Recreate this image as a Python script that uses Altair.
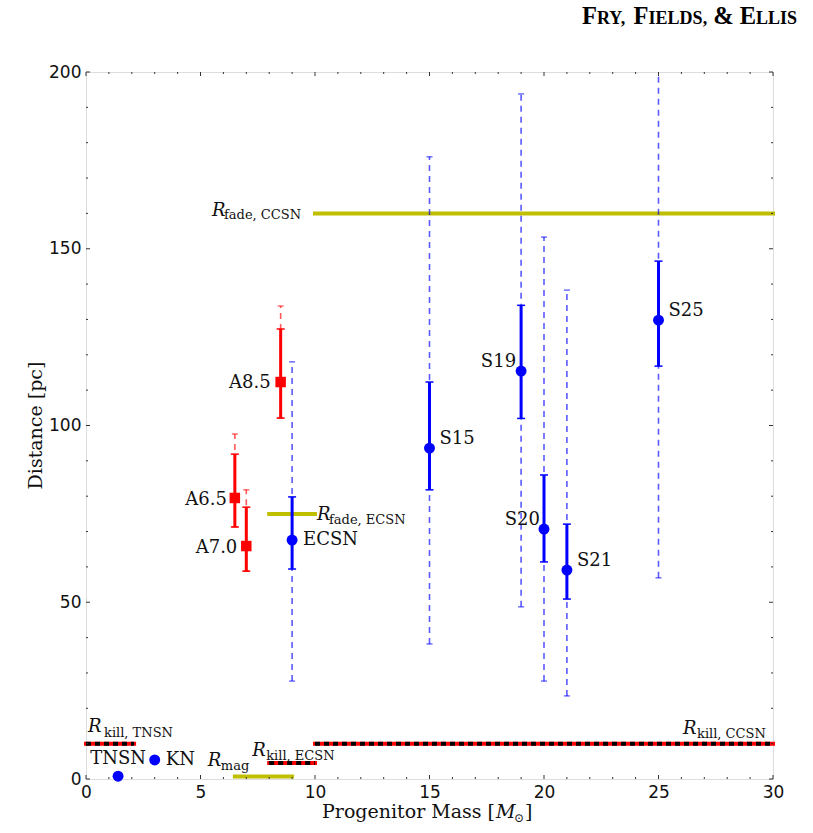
import altair as alt
import pandas as pd

# Supernova models (blue): best estimate, central band and full range of distance
sn_names = ["ECSN", "S15", "S19", "S20", "S21", "S25"]
sn_mass = [9, 15, 19, 20, 21, 25]
sn_dist = [67.6, 93.6, 115.4, 70.7, 59.1, 129.8]
sn_lo = [59.4, 81.8, 102.0, 61.4, 50.9, 116.8]
sn_hi = [79.8, 112.3, 134.0, 86.0, 72.1, 146.5]
sn_range_lo = [27.7, 38.2, 48.7, 27.7, 23.5, 56.9]
sn_range_hi = [118.0, 176.0, 193.8, 153.3, 138.3, 215.0]

# Super-AGB models (red)
agb_names = ["A6.5", "A7.0", "A8.5"]
agb_mass = [6.5, 7.0, 8.5]
agb_dist = [79.5, 65.9, 112.3]
agb_lo = [71.3, 58.8, 102.1]
agb_hi = [91.9, 76.9, 127.3]
agb_range_hi = [97.6, 81.8, 133.8]

# Other explosive events
other_names = ["TNSN", "KN"]
other_mass = [1.4, 3.0]
other_dist = [0.8, 5.4]

# Characteristic radii: subscript, kind, mass range, distance
radius_sub = ["fade, CCSN", "fade, ECSN", "mag", "kill, CCSN", "kill, ECSN", "kill, TNSN"]
radius_kind = ["fade", "fade", "mag", "kill", "kill", "kill"]
radius_start = [10, 8, 6.5, 10, 8, 0]
radius_end = [30, 10, 9, 30, 10, 2.1]
radius_dist = [160, 75, 0.7, 10, 4.5, 10]

# Axis ticks
x_major = [0, 5, 10, 15, 20, 25, 30]
x_minor = [v for v in range(0, 31) if v % 5]
y_major = [0, 50, 100, 150, 200]
y_minor = [v for v in range(0, 201, 10) if v % 50]

W, H = 687, 707
SERIF = "DejaVu Serif"
BLUE = "#0000ff"
RED = "#ff0000"
OLIVE = "#bfbf00"

sn = pd.DataFrame(dict(name=sn_names, mass=sn_mass, dist=sn_dist, lo=sn_lo, hi=sn_hi,
                       rlo=sn_range_lo, rhi=sn_range_hi))
agb = pd.DataFrame(dict(name=agb_names, mass=agb_mass, dist=agb_dist, lo=agb_lo, hi=agb_hi,
                        rlo=agb_lo, rhi=agb_range_hi))
other = pd.DataFrame(dict(name=other_names, mass=other_mass, dist=other_dist))
radii = pd.DataFrame(dict(sub=radius_sub, kind=radius_kind, start=radius_start,
                          end=radius_end, dist=radius_dist))

xs = alt.Scale(domain=[0, 30], nice=False, zero=False)
ys = alt.Scale(domain=[0, 200], nice=False, zero=False)

# axes show labels only; ticks are drawn inward below
axis_style = dict(ticks=False, domain=False, grid=False, labelFont="DejaVu Sans",
                  labelFontSize=17, labelColor="#111", labelFlush=False,
                  labelOverlap=False, title=None, format="d")
x_axis = alt.Axis(values=x_major, labelPadding=5, **axis_style)
y_axis = alt.Axis(values=y_major, labelPadding=5, **axis_style)


def X(field):
    return alt.X(f"{field}:Q", scale=xs, axis=x_axis)


def Y(field):
    return alt.Y(f"{field}:Q", scale=ys, axis=y_axis)


layers = []

# fade / magnetic radii (olive bars)
layers.append(
    alt.Chart(radii).transform_filter(alt.datum.kind != "kill")
    .mark_rule(color=OLIVE, strokeWidth=4, strokeCap="square")
    .encode(x=X("start"), x2="end", y=Y("dist"))
)

# full ranges (dashed)
for df, col in ((agb, RED), (sn, BLUE)):
    layers.append(
        alt.Chart(df).mark_rule(color=col, opacity=0.65, strokeWidth=1.6,
                                strokeDash=[6, 5], clip=True)
        .encode(x=X("mass"), y=Y("rlo"), y2="rhi")
    )
    for end in ("rlo", "rhi"):
        layers.append(
            alt.Chart(df).mark_rule(color=col, opacity=0.65, strokeWidth=1.3,
                                    xOffset=-3, x2Offset=3, clip=True)
            .encode(x=X("mass"), x2="mass", y=Y(end))
        )

# central bands (solid)
for df, col in ((agb, RED), (sn, BLUE)):
    layers.append(
        alt.Chart(df).mark_rule(color=col, strokeWidth=3)
        .encode(x=X("mass"), y=Y("lo"), y2="hi")
    )
    for end in ("lo", "hi"):
        layers.append(
            alt.Chart(df).mark_rule(color=col, strokeWidth=1.5, xOffset=-4, x2Offset=4)
            .encode(x=X("mass"), x2="mass", y=Y(end))
        )

# markers
layers.append(alt.Chart(agb).mark_square(color=RED, size=110, opacity=1)
              .encode(x=X("mass"), y=Y("dist")))
layers.append(alt.Chart(sn).mark_circle(color=BLUE, size=120, opacity=1)
              .encode(x=X("mass"), y=Y("dist")))
layers.append(alt.Chart(other).mark_circle(color=BLUE, size=120, opacity=1)
              .encode(x=X("mass"), y=Y("dist")))

# kill radii: red bar with black dashes
kill = alt.Chart(radii).transform_filter(alt.datum.kind == "kill")
layers.append(kill.mark_rule(color=RED, strokeWidth=4, strokeCap="square")
              .encode(x=X("start"), x2="end", y=Y("dist")))
layers.append(kill.mark_rule(color="#000000", strokeWidth=4, strokeDash=[5, 4])
              .encode(x=X("start"), x2="end", y=Y("dist")))

# point labels: align, dx, dy
point_label_place = {
    "A6.5": ("right", -8, 2), "A7.0": ("right", -9, 2), "A8.5": ("right", -10, 1),
    "ECSN": ("left", 11, 0), "S15": ("left", 10, -9), "S19": ("right", -5, -9),
    "S20": ("right", -4, -9), "S21": ("left", 10, -9), "S25": ("left", 10, -9),
    "TNSN": ("center", 0, -17), "KN": ("left", 11, 0),
}
all_points = pd.concat([sn, agb, other])[["name", "mass", "dist"]]
for name, (align, dx, dy) in point_label_place.items():
    layers.append(
        alt.Chart(all_points).transform_filter(alt.datum.name == name)
        .mark_text(align=align, baseline="middle", dx=dx, dy=dy, font=SERIF,
                   fontSize=18, color="#111")
        .encode(x=X("mass"), y=Y("dist"), text="name:N")
    )

# radius labels: anchor end, R offset, subscript offset
radius_label_place = {
    "fade, CCSN": ("start", -103, 3, -91, 6),
    "fade, ECSN": ("end", 2, 6, 14, 10),
    "mag": ("start", -27, -11, -14, -7),
    "kill, CCSN": ("end", -90, -10, -76, -6),
    "kill, ECSN": ("start", -17, -7, -3, -3),
    "kill, TNSN": ("start", 2, -12, 18, -7),
}
for sub, (anchor, rdx, rdy, sdx, sdy) in radius_label_place.items():
    base = alt.Chart(radii).transform_filter(alt.datum.sub == sub)
    layers.append(
        base.mark_text(text="R", align="left", baseline="alphabetic", dx=rdx, dy=rdy,
                       font=SERIF, fontStyle="italic", fontSize=18, color="#111")
        .encode(x=X(anchor), y=Y("dist"))
    )
    layers.append(
        base.mark_text(align="left", baseline="alphabetic", dx=sdx, dy=sdy,
                       font=SERIF, fontSize=13, color="#111")
        .encode(x=X(anchor), y=Y("dist"), text="sub:N")
    )

# inward ticks on all four sides
tick_color = "#333"
for vals, ln in ((x_major, 4), (x_minor, 2)):
    tdf = pd.DataFrame({"v": vals})
    layers.append(alt.Chart(tdf).mark_rule(color=tick_color, strokeWidth=1)
                  .encode(x=X("v"), y=alt.value(H), y2=alt.value(H - ln)))
    layers.append(alt.Chart(tdf).mark_rule(color=tick_color, strokeWidth=1)
                  .encode(x=X("v"), y=alt.value(0), y2=alt.value(ln)))
for vals, ln in ((y_major, 4), (y_minor, 2)):
    tdf = pd.DataFrame({"v": vals})
    layers.append(alt.Chart(tdf).mark_rule(color=tick_color, strokeWidth=1)
                  .encode(y=Y("v"), x=alt.value(0), x2=alt.value(ln)))
    layers.append(alt.Chart(tdf).mark_rule(color=tick_color, strokeWidth=1)
                  .encode(y=Y("v"), x=alt.value(W), x2=alt.value(W - ln)))

one = pd.DataFrame({"k": [0]})


def label(text, x, y, **kw):
    style = dict(font=SERIF, fontSize=19, color="#111", baseline="alphabetic", align="left")
    style.update(kw)
    return alt.Chart(one).mark_text(text=text, **style).encode(
        x=alt.value(x), y=alt.value(y))


# axis titles
layers.append(label("Progenitor Mass [", 409, 746, align="right"))
layers.append(label("M", 410, 746, fontStyle="italic"))
layers.append(label("\u2299", 428, 750, fontSize=12))
layers.append(label("]", 439, 746))
layers.append(label("Distance [pc]", -50, H / 2, angle=270, align="center",
                    baseline="middle"))

# running header in small capitals
for txt, x, size in (("F", 496, 24.5), ("RY,", 511, 18), ("F", 547.6, 24.5),
                     ("IELDS,", 562.6, 18), ("& E", 627.2, 24.5), ("LLIS", 670.1, 18)):
    layers.append(label(txt, x, -48, font="Liberation Serif", fontWeight="bold",
                        fontSize=size, color="#000"))

chart = alt.layer(*layers).properties(
    width=W, height=H,
    padding={"left": 86, "top": 72, "right": 40, "bottom": 54},
    autosize="none",
).configure_view(stroke="#222", strokeWidth=1.5).configure(background="white")

chart.save("out.html", embed_options={"renderer": "svg", "actions": False})
